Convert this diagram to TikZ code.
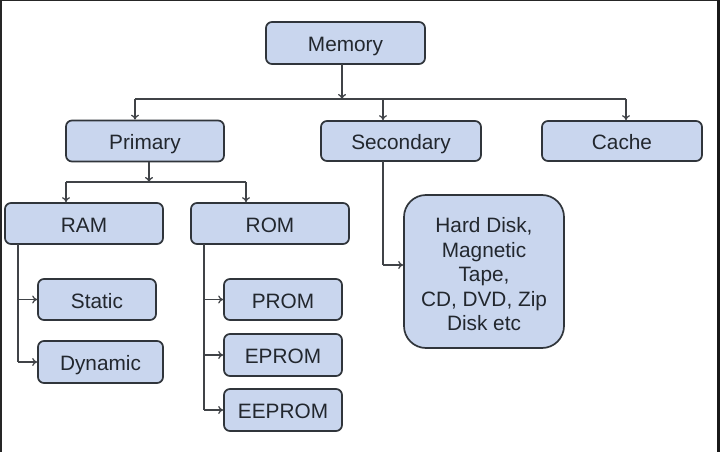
\documentclass[tikz,border=0pt]{standalone}
\usepackage{fontspec}
\setmainfont{Liberation Sans}
\usetikzlibrary{arrows.meta}
\definecolor{boxfill}{HTML}{C9D6EE}
\definecolor{boxline}{HTML}{30353B}
\definecolor{txt}{HTML}{22272E}
\definecolor{conn}{HTML}{404347}
\begin{document}
\begin{tikzpicture}[x=1pt,y=-1pt,
  box/.style={draw=boxline,fill=boxfill,line width=1.7pt,rounded corners=6pt,
    text=txt,font=\fontsize{20.8}{24.5}\selectfont,inner sep=0pt,align=center},
  one/.style={box,text height=17pt,text depth=0pt},
  conline/.style={draw=conn,line width=1.3pt},
  arr/.style={conline,-{To[length=5pt,width=8pt]}}]
\useasboundingbox (0,0) rectangle (720,452);
\fill[white] (0,0) rectangle (720,452);
% frame
\fill[black!85] (0,0) rectangle (720,1.5);
\fill[black!85] (0,0) rectangle (1.5,452);
\fill[black!90] (717,0) rectangle (720,452);
% nodes
\node[one,minimum width=159pt,minimum height=42pt] (mem) at (345.5,43) {Memory};
\node[one,minimum width=158pt,minimum height=41pt] (pri) at (145,141) {Primary};
\node[one,minimum width=160pt,minimum height=40pt] (sec) at (401,141) {Secondary};
\node[one,minimum width=160pt,minimum height=40pt] (cac) at (622,141) {Cache};
\node[one,minimum width=158pt,minimum height=41pt] (ram) at (84,223.5) {RAM};
\node[one,minimum width=158pt,minimum height=41pt] (rom) at (270,223.5) {ROM};
\node[one,minimum width=118pt,minimum height=41pt] (sta) at (97,299.5) {Static};
\node[one,minimum width=125pt,minimum height=42pt] (dyn) at (100.5,362) {Dynamic};
\node[one,minimum width=118pt,minimum height=41pt] (prom) at (283,299.5) {PROM};
\node[one,minimum width=118pt,minimum height=42pt] (eprom) at (283,355) {EPROM};
\node[one,minimum width=118pt,minimum height=42pt] (eeprom) at (283,410) {EEPROM};
\node[box,rounded corners=22pt,minimum width=160pt,minimum height=153pt] (big) at (484,271.5)
  {};
\node[text=txt,font=\fontsize{20.8}{24.5}\selectfont,align=center,inner sep=0pt] (bigtext) at (484,274.5)
  {Hard Disk,\\Magnetic\\Tape,\\CD, DVD, Zip\\Disk etc};
% level 1 bus
\coordinate (mtop) at (342,64);
\coordinate (mbus) at (342,99);
\coordinate (b1) at (135,99);
\coordinate (b2) at (383,99);
\coordinate (b3) at (626,99);
\draw[arr] (mtop) -- (mbus);
\draw[conline] (b1) -- (b3);
\draw[arr] (b1) -- (b1 |- pri.north);
\draw[arr] (b2) -- (b2 |- sec.north);
\draw[arr] (b3) -- (b3 |- cac.north);
% level 2 bus
\coordinate (ptop) at (149,161.5);
\coordinate (pbus) at (149,182);
\coordinate (c1) at (66,182);
\coordinate (c2) at (246,182);
\draw[arr] (ptop) -- (pbus);
\draw[conline] (c1) -- (c2);
\draw[arr] (c1) -- (c1 |- ram.north);
\draw[arr] (c2) -- (c2 |- rom.north);
% RAM children
\coordinate (rt) at (18,244);
\draw[conline] (rt) -- (rt |- dyn.west);
\draw[arr] (rt |- sta.west) -- (sta.west);
\draw[arr] (rt |- dyn.west) -- (dyn.west);
% ROM children
\coordinate (ot) at (204,244);
\draw[conline] (ot) -- (ot |- eeprom.west);
\draw[arr] (ot |- prom.west) -- (prom.west);
\draw[arr] (ot |- eprom.west) -- (eprom.west);
\draw[arr] (ot |- eeprom.west) -- (eeprom.west);
% Secondary child
\coordinate (st) at (383,161);
\coordinate (sb) at (383,265);
\draw[conline] (st) -- (sb);
\draw[arr] (sb) -- (sb -| big.west);
\end{tikzpicture}
\end{document}
